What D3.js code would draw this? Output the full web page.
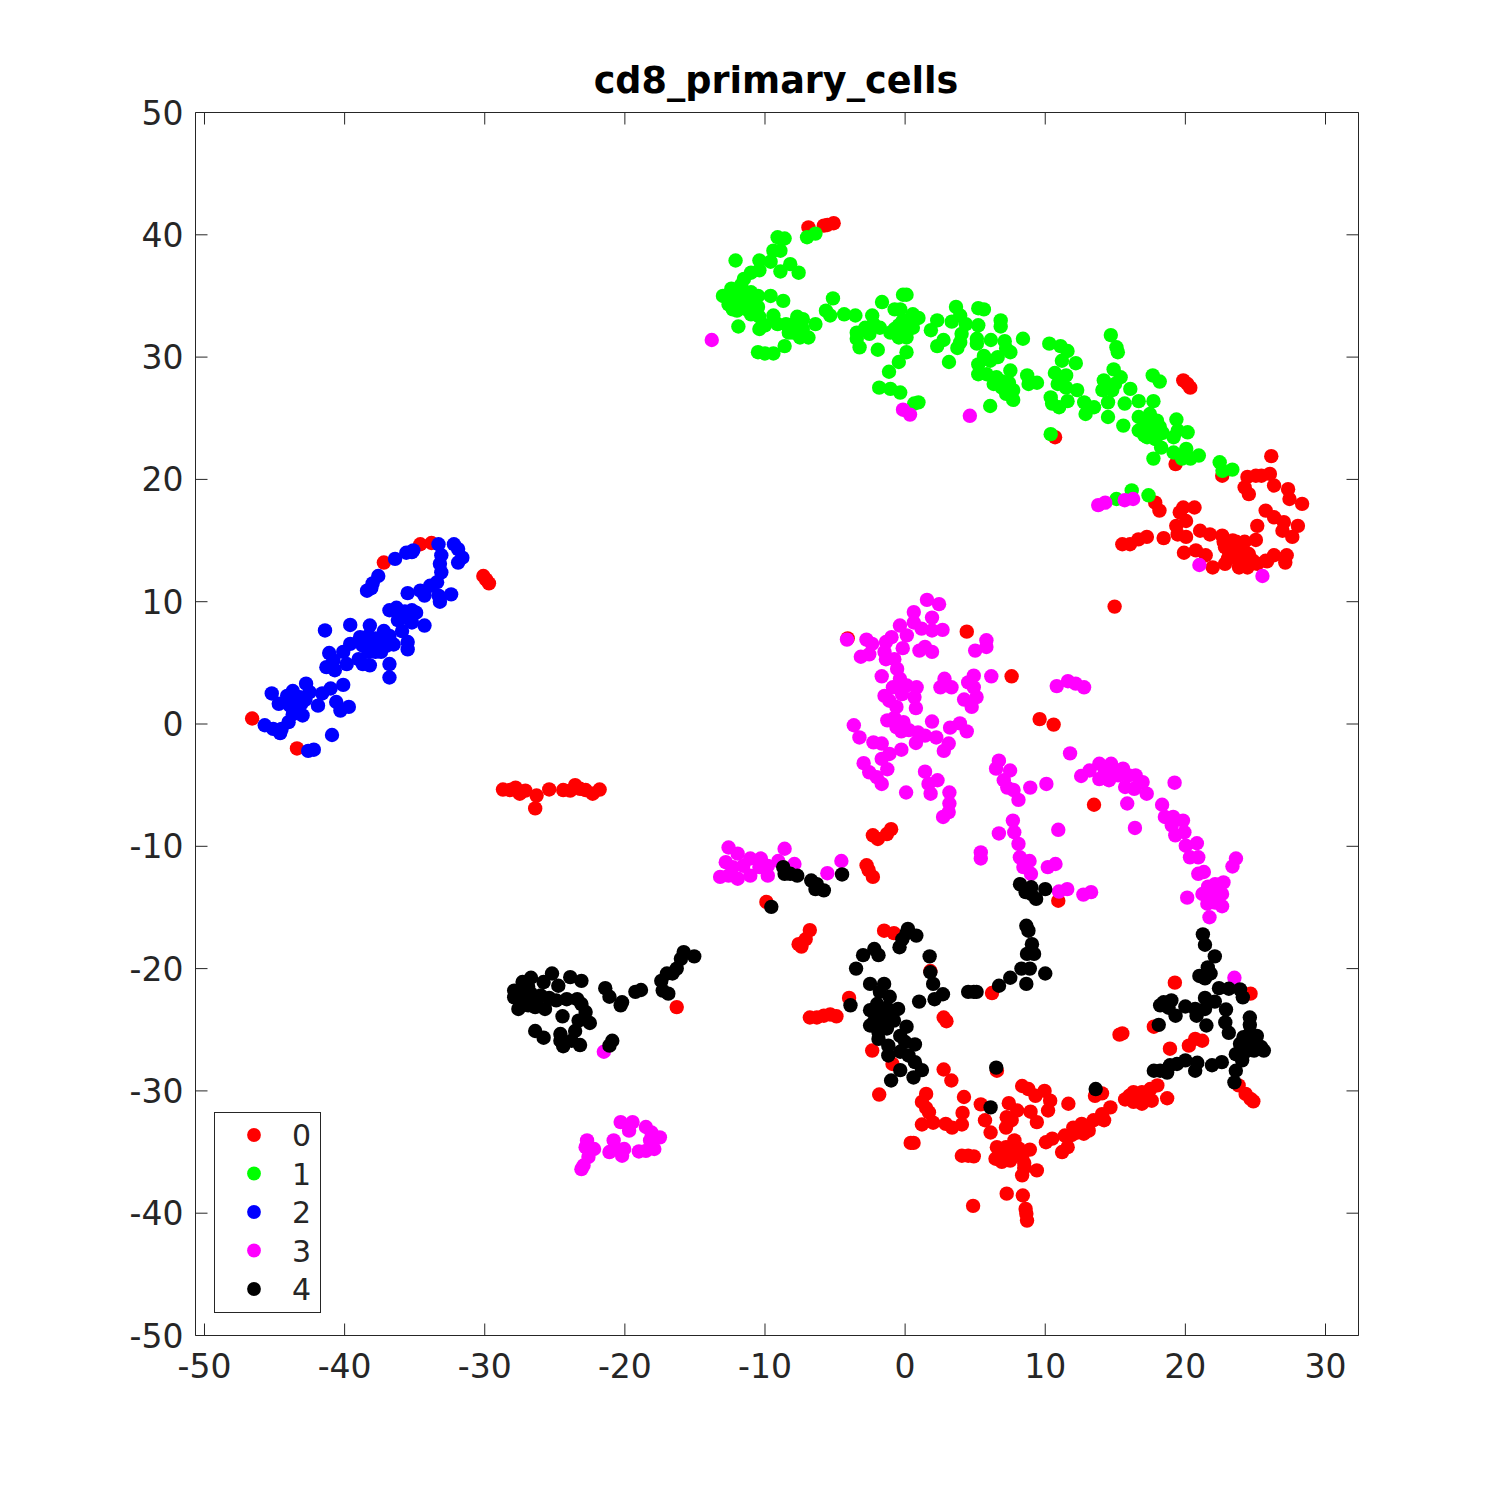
<!DOCTYPE html>
<html><head><meta charset="utf-8">
<script src="https://cdn.jsdelivr.net/npm/d3@7"></script>
<style>html,body{margin:0;padding:0;background:#fff}svg{display:block}</style>
</head><body><svg id="c" width="1500" height="1500"></svg>
<script>
const chartTitle = "cd8_primary_cells";
const categories = ["0","1","2","3","4"];
const seriesColors = ["#ff0000","#00ff00","#0000ff","#ff00ff","#000000"];
const xTicks = [-50,-40,-30,-20,-10,0,10,20,30];
const yTicks = [-50,-40,-30,-20,-10,0,10,20,30,40,50];

const series0 = [[-6.9,40.6],[-5.8,40.75],[-5.55,40.8],[-5.1,40.95],[19.85,28.1],[20.15,27.8],[20.35,27.5],[10.7,23.45],[19.3,21.25],[22.63,20.3],[26.13,21.9],[24.43,20.2],[25.03,20.3],[25.43,20.3],[26.03,20.45],[24.23,19.35],[24.53,18.8],[26.33,19.5],[27.33,19.2],[27.43,18.4],[28.33,18],[18.15,17.45],[17.85,18.1],[19.85,17.7],[20.65,17.7],[19.6,17.3],[20.05,16.6],[19.35,16.2],[19.45,15.5],[20.05,15.3],[25.73,17.45],[26.33,16.9],[27.03,16.5],[28.03,16.2],[27.63,15.3],[26.93,15.8],[25.13,16.2],[15.5,14.7],[16.05,14.7],[16.65,15.1],[17.25,15.3],[18.45,15.2],[21.05,15.8],[21.75,15.5],[22.63,15.4],[23.38,15],[24.23,14.9],[25.03,15.05],[19.9,14],[20.75,14.2],[21.45,13.8],[21.95,12.8],[22.83,13.1],[22.83,14.45],[23.83,14.2],[23.83,12.8],[23.38,13.6],[24.53,13.9],[24.43,12.8],[25.13,13.1],[25.73,13.35],[26.33,13.8],[27.23,13.8],[27.13,13.2],[24.83,13.35],[23.13,14],[23.63,14.9],[24.13,13.4],[23.03,13.5],[22.73,14.9],[25.83,13.3],
[-34.6,14.7],[-33.8,14.8],[-37.2,13.2],[-30.1,12.1],[-29.9,11.8],[-29.7,11.5],[-46.6,0.45],[-43.4,-2],
[4.4,7.55],[14.95,9.6],[7.6,3.9],[9.6,0.4],[10.6,-0.05],[13.48,-6.6],[-4.1,7],[-2.3,-9.1],[-1.95,-9.4],[-1.3,-9],[-1,-8.6],[-2.75,-11.55],[-2.6,-11.95],[-2.3,-12.5],[-9.9,-14.55],[10.93,-14.45],
[-28.7,-5.36],[-28.2,-5.4],[-27.8,-5.2],[-27.5,-5.7],[-27.1,-5.45],[-26.3,-5.85],[-25.4,-5.35],[-26.4,-6.9],[-24.4,-5.4],[-23.9,-5.45],[-23.55,-5],[-23.2,-5.3],[-22.8,-5.4],[-22.3,-5.7],[-21.8,-5.36],[-16.3,-23.15],
[-6.8,-16.85],[-7.1,-17.6],[-7.6,-18],[-7.4,-18.2],[-1.5,-16.9],[-0.8,-17.1],[1.8,-20.2],[-4,-22.4],[-6.8,-24],[-6.3,-24],[-5.8,-23.85],[-5.35,-23.75],[-4.9,-23.9],[2.75,-24],[2.95,-24.3],[6.2,-22],[-2.35,-26.7],[-0.9,-27.8],[-1.85,-30.3],[2.75,-28.25],[3.3,-29.15],[1.5,-30.25],[1.2,-30.9],[4.2,-30.5],[1.7,-31.75],[4.1,-31.8],[1.2,-32.75],[2,-32.6],[2.9,-32.7],[3.35,-33],[4.05,-32.75],[0.4,-34.25],[0.6,-34.25],[5.4,-31.1],[5.7,-32.4],[6.1,-33.4],[6.55,-28.35],[8.35,-29.6],[8.8,-29.85],[9.3,-30.4],[9.95,-30],[10.35,-30.8],[10.2,-31.6],[7.4,-31],[8,-31.6],[8.95,-31.7],[9.4,-32.55],[7.25,-32.15],[7.2,-33],[7.6,-32.4],[1.5,-31.4],[11.65,-31.05],[4.05,-35.3],[4.5,-35.3],[4.9,-35.35],[6.55,-34.6],[7.8,-34.05],[6.45,-35.55],[7,-35.15],[7.75,-35.15],[8.35,-35.4],[7.5,-35.7],[8.9,-34.8],[7.2,-34.6],[6.9,-35.8],[8.1,-34.7],[8.5,-35.9],[8.35,-36.9],[8.5,-36.3],[9.4,-36.5],[7.25,-38.4],[4.85,-39.4],[8.4,-38.55],[8.6,-39.65],[8.65,-40.05],[8.7,-40.6],[10.05,-34.2],[10.5,-33.9],[11.2,-35],[11.6,-34.6],[11.4,-33.65],[12,-33],[12.6,-32.7],[13.1,-33.25],[12.75,-33.5],[12.3,-33.4],[11.9,-33.6],[13.45,-32.4],[14.05,-31.9],[14.2,-32.4],[14.65,-31.35],[15.7,-30.7],[16.3,-30.1],[16.9,-30.1],[16.3,-30.9],[16.9,-31.05],[17.5,-29.85],[17.6,-30.8],[18,-29.55],[18.7,-30.6],[16.7,-30.5],[16,-30.4],[17.2,-30.4],[13.55,-30.4],[14.05,-30.2],[15.3,-25.4],[15.5,-25.3],[18.9,-26.55],[20.25,-26.3],[20.7,-25.75],[21.2,-25.9],[19.25,-21.15],[17.75,-24.75],[24.65,-22.05],[23.8,-29.55],[24.3,-30.25],[24.65,-30.65],[24.85,-30.85]];

const series1 = [[-9.1,39.8],[-8.6,39.7],[-9.4,38.7],[-8.9,38.7],[-12.1,37.9],[-10.4,37.9],[-9.6,37.8],[-8.2,37.6],[-7.6,36.9],[-8.9,37],[-10.4,37.1],[-11,36.9],[-11.5,36.4],[-11.7,35.9],[-12.4,35.6],[-13,35],[-12.4,34.9],[-11.8,35.2],[-11,35.3],[-10.5,35],[-12.6,34.3],[-11.8,34.3],[-11,34.3],[-12.3,33.9],[-10.5,34.1],[-11.5,34.6],[-11,33.5],[-10.4,33.3],[-12,34.8],[-12,33.8],[-11.3,33.9],[-9.6,35],[-8.7,34.6],[-11.9,32.5],[-10.4,32.3],[-10,32.6],[-9.4,33.4],[-9.1,32.7],[-8.5,32.7],[-7.7,33.3],[-7.3,33.1],[-8.3,32],[-7.7,32.3],[-7.6,32.7],[-7.5,31.6],[-6.9,31.6],[-6.4,32.7],[-10.5,30.4],[-10,30.3],[-9.4,30.3],[-8.6,30.9],[-7,39.8],[-6.4,40.1],[-7.3,32.3],[-8,32],[-8,32.7],
[-5.15,34.8],[-5.65,33.8],[-5.35,33.4],[-4.35,33.5],[-3.55,33.4],[-1.65,34.5],[-0.15,35.1],[0.1,35.1],[-0.75,33.9],[-0.35,33.9],[0.55,33.5],[0.95,33.2],[-2.35,33.4],[-3.45,32],[-2.85,32.4],[-2.25,32.7],[-1.8,32.4],[-3.25,30.8],[-3.45,31.5],[-2.55,31.9],[-1.95,30.6],[-0.75,32.3],[-0.15,33],[-0.05,32.2],[0.55,32.4],[-0.45,31.6],[0.1,31.6],[-1.05,32],[-0.45,32.6],[0.25,32.8],[-2.45,32.4],[0.1,30.4],[-0.45,29.6],[-1.15,28.8],[-1.85,27.5],[-1.05,27.4],[-0.35,27.1],[0.95,26.3],[0.65,26.2],[2.29,33],[1.84,32.2],[2.74,31.4],[2.29,30.9],[3.63,34.1],[3.93,33.4],[3.33,32.9],[4.33,32.7],[5.22,32.6],[4.03,31.9],[3.93,31.2],[3.73,30.75],[5.22,34],[5.62,33.9],[5.12,31.5],[5.12,31.1],[6.12,31.4],[6.82,33],[6.82,32.5],[3.13,29.6],
[8.41,31.5],[7.11,31.3],[7.21,30.7],[7.51,30.4],[6.61,30],[5.62,30.1],[5.22,29.4],[6.07,29.7],[5.22,28.6],[5.82,28.6],[7.51,28.9],[6.52,28.35],[6.32,27.8],[6.91,27.5],[7.71,27.3],[7.21,27],[7.71,26.5],[8.71,28.5],[8.81,27.8],[9.41,27.9],[6.07,26],[6.91,28],[7.41,27.9],
[10.29,31.1],[11.09,30.9],[11.59,30.5],[11.19,29.7],[12.18,29.5],[10.69,28.7],[11.49,28.5],[10.89,27.8],[11.49,27.5],[12.28,27.3],[10.39,26.7],[10.49,26.2],[10.99,25.9],[11.59,26.4],[12.78,26.3],[12.88,25.35],[13.48,25.9],[14.48,26.3],[14.48,25.1],[14.68,31.8],[15.08,30.8],[15.18,30.4],[14.88,29],[15.38,28.35],[14.18,28.1],[14.98,27.8],[14.08,27.3],[14.78,27.3],[16.07,27.4],[15.67,26.2],[16.67,26.4],[17.72,26.4],[17.67,28.5],[18.17,28],[15.57,24.4],[16.67,25.1],[17.47,25.35],[17.97,24.8],[16.67,24],[17.47,24.3],[18.17,24.3],[17.07,24.7],[17.67,23.8],[17.07,23.6],[18.37,23.8],[17.27,23.45],[17.87,23.3],[18.27,22.6],[17.72,21.7],[19.36,24.9],[19.46,24],[20.16,23.85],[19.16,23.45],[19.16,22.2],[20.06,22.5],[19.76,21.7],[20.36,21.7],[20.96,21.95],[22.45,21.4],[22.65,20.7],[23.35,20.8],[10.39,23.7],[16.17,19.1],[15.08,18.4],[17.37,18.7]];

const series2 = [[-33.3,14.7],[-32.2,14.7],[-31.9,14.3],[-31.6,13.6],[-31.9,13.2],[-33.1,13.8],[-33.2,13.1],[-33.1,12.4],[-33.4,11.6],[-33.9,11.3],[-35.2,14.05],[-35.6,14],[-35.1,14.2],[-36.4,13.5],[-37.6,12.1],[-38,11.5],[-38.4,10.9],[-38.1,11.1],[-35.5,10.7],[-34.6,10.9],[-34.3,10.5],[-33.3,10.5],[-32.4,10.6],[-33.2,10],[-36.8,9.3],[-36.3,9.5],[-35.2,9.3],[-34.9,9.1],[-35.6,8.7],[-36.2,8.5],[-35.2,8.3],[-35.9,7.6],[-34.3,8.05],[-35.7,9.2],[-41.4,7.65],[-39.6,8.1],[-38.2,8.05],[-38.9,7.1],[-38.3,7.2],[-37.2,7.6],[-36.8,7.2],[-38.7,6.4],[-38,6.5],[-37.5,6.8],[-37,6.4],[-36.5,6.5],[-39.6,6.55],[-37.4,5.9],[-35.5,6.7],[-35.5,6.1],[-37.8,7],[-38.3,5.9],[-36.9,6.9],[-37.8,5.9],[-41.1,5.8],[-40.1,5.9],[-40.8,5.2],[-41.3,4.65],[-40.7,4.4],[-39.85,4.9],[-39,5.3],[-38.7,4.9],[-38.2,4.8],[-36.8,4.9],[-36.8,3.8],[-40.1,3.2],[-41,2.9],[-41.6,2.5],[-42.75,3.3],[-43.7,2.7],[-42.5,2.6],[-43.2,2.2],[-44.1,2.3],[-45.2,2.5],[-44.7,1.65],[-43.9,1.5],[-43.1,1.65],[-41.9,1.5],[-42.8,2],[-44,2],[-40.6,1.8],[-40.3,1.1],[-39.7,1.4],[-43,0.7],[-43.7,0.8],[-44,0.15],[-44.5,-0.4],[-45.1,-0.4],[-45.7,-0.1],[-44.6,-0.75],[-40.9,-0.9],[-42.6,-2.2],[-42.2,-2.1]];

const series3 = [[-13.8,31.4],[-0.15,25.7],[0.35,25.3],[4.62,25.2],[13.78,17.9],[14.28,18.1],[15.67,18.3],[16.27,18.4],[21,13],[25.5,12.1],
[1.56,10.15],[2.42,9.8],[1.92,8.7],[0.62,9.15],[0.62,8.3],[-0.37,8.05],[0.12,7.25],[1.17,7.8],[1.92,7.65],[2.67,7.7],[-4.15,6.9],[-2.76,6.9],[-2.36,6.55],[-3.16,5.5],[-2.56,5.7],[-0.97,7.1],[-1.37,6.7],[-0.17,6.2],[-1.47,5.9],[-1.37,5.3],[-0.77,5.3],[1.02,6],[1.42,6.3],[1.92,5.9],[5.8,6.85],[5.8,6.3],[5,6],[-1.67,3.9],[-0.57,4.5],[-0.37,3.7],[-0.87,3],[0.82,3],[0.12,3.15],[-1.47,2.3],[-0.22,2.45],[0.67,2.2],[-1.12,1.9],[-0.62,1.4],[0.77,1.3],[2.81,3.7],[2.52,3],[3.31,3],[4.9,3.95],[6.15,3.9],[4.5,3.4],[4.9,3],[4.21,2],[5.1,2.2],[4.75,1.4],[10.82,3.1],[11.62,3.5],[12.17,3.3],[12.77,3],[-3.66,-0.1],[-3.26,-1.1],[-1.27,0.3],[-0.62,-0.25],[-0.12,0.15],[0.27,-0.5],[0.92,-0.7],[1.92,0.2],[2.22,-1.1],[1.42,-0.95],[0.77,-1.55],[-0.77,0.5],[-0.27,-0.6],[3.21,-0.3],[3.91,0.05],[4.4,-0.6],[3.11,-1.6],[2.76,-2.2],[-2.26,-1.5],[-1.67,-1.6],[-0.27,-2.1],[-1.12,-2.45],[-1.67,-2.85],[-2.96,-3.2],[-2.56,-3.95],[-1.27,-3.7],[-2.02,-4.35],[-1.67,-4.9],[0.07,-5.6],[1.42,-3.9],[2.31,-4.6],[1.67,-4.9],[1.82,-5.7],[3.16,-5.6],[3.16,-6.5],[3.11,-7.2],[2.71,-7.6],[6.69,-3],[6.49,-3.65],[7.49,-3.8],[7.04,-4.6],[7.29,-5.2],[7.74,-5.4],[8.09,-6.2],[8.93,-5.2],[10.08,-4.9],[11.77,-2.4],[12.56,-4.25],[13.16,-3.8],[13.86,-3.25],[13.86,-4.5],[14.7,-3.25],[14.55,-4.6],[15.55,-3.65],[15.2,-4.2],[15.95,-4.2],[16.45,-4.2],[15.7,-5.15],[16.95,-4.75],[17.24,-5.7],[16.35,-5.3],[14.26,-3.9],[14.85,-4.1],[19.23,-4.8],[15.85,-6.5],[18.34,-6.6],[16.4,-8.5],[18.54,-7.6],[19.13,-7.6],[19.83,-7.9],[19.03,-8.3],[19.93,-8.85],[19.28,-9.1],[20.82,-9.75],[20.03,-9.95],[20.33,-10.9],[20.92,-10.9],[21.32,-12.1],[20.92,-12.25],[22.12,-13.1],[22.72,-12.95],[21.22,-13.9],[22.12,-13.9],[22.62,-13.9],[21.62,-13.3],[22.12,-14.6],[20.13,-14.2],[21.57,-14.7],[22.62,-14.9],[21.72,-15.8],[23.61,-11],[23.36,-11.65],[7.69,-7.9],[7.79,-8.85],[8.09,-9.8],[8.19,-10.9],[8.88,-11.2],[8.98,-12.25],[8.44,-11.7],[6.69,-8.95],[10.93,-8.65],[5.4,-10.5],[5.4,-11],[10.18,-11.7],[10.73,-11.45],[10.98,-13.7],[11.57,-13.5],[12.72,-13.95],[13.27,-13.75],
[-12.6,-10.1],[-11.95,-10.6],[-12.8,-11.3],[-13.2,-12.5],[-12.6,-12.4],[-11.95,-12.65],[-12.3,-11.7],[-11.05,-11],[-10.3,-11],[-11.05,-12.4],[-11.55,-11.6],[-9.8,-12.4],[-10.4,-11.7],[-9.8,-11.6],[-9.05,-11.2],[-8.6,-10.2],[-7.9,-11.45],[-5.55,-12.2],[-4.55,-11.2],[23.5,-20.75],[-21.5,-26.8],
[-20.3,-32.55],[-19.45,-32.55],[-18.5,-32.95],[-19.7,-33.25],[-18.1,-33.4],[-17.5,-33.8],[-18.2,-34.05],[-17.9,-34.75],[-18.5,-34.9],[-19,-34.95],[-20.8,-34.05],[-20.05,-34.75],[-21.1,-35],[-20.2,-35.3],[-20.65,-34.75],[-22.7,-34.05],[-22.8,-34.6],[-22.2,-34.75],[-22.6,-35.4],[-22.95,-36.1],[-23.1,-36.4]];

const series4 = [[8.65,-16.5],[8.8,-16.9],[9.05,-18],[8.7,-18.8],[9.2,-18.8],[8.3,-20],[8.9,-20],[10,-20.4],[8.65,-21.25],[7.5,-20.75],[6.7,-21.4],[4.9,-21.9],[5.1,-21.9],[4.5,-21.9],[0.2,-16.75],[0.8,-17.3],[-0.2,-17.6],[-0.4,-18.25],[0.1,-17.1],[-2.2,-18.4],[-1.9,-18.9],[-3,-18.9],[-3.5,-20],[1.75,-19],[1.8,-20.3],[2,-21.25],[2.7,-22.1],[2.1,-22.5],[1,-22.7],[-2.5,-21.25],[-1.5,-21.25],[-1.1,-22.3],[-1.8,-21.9],[-3.9,-23],[-0.5,-23.3],[-2.5,-23.4],[-2,-22.9],[-1.3,-23.2],[-1.9,-23.8],[-2.2,-24.3],[-1.5,-24.6],[-1.1,-23.8],[-2.5,-24.65],[-1.8,-24],[-0.8,-24.25],[-1.3,-24.9],[0.1,-24.75],[-1.9,-25.2],[-1.9,-25.75],[-1.2,-26.3],[-1.2,-27.1],[-0.35,-25.5],[0.7,-26.2],[0,-26],[-0.35,-26.8],[0.24,-27.1],[0.7,-27.65],[1.2,-28.3],[-0.35,-28.3],[-1,-29.15],[0.6,-28.9],[6.5,-28.1],[6.1,-31.35],[13.6,-29.85],
[21.25,-17.2],[21.4,-18.05],[22.1,-19],[21.6,-19.9],[21,-20.6],[21.8,-20.4],[21.4,-20.8],[22.4,-21.6],[23.1,-21.65],[23.9,-21.7],[24.1,-22.35],[21.4,-22.4],[22.1,-22.7],[20.7,-23.3],[21.4,-23.3],[20,-23.1],[19,-22.6],[18.45,-22.75],[18.2,-23],[19.3,-23.85],[18.8,-23.2],[18.1,-24.6],[20.8,-23.85],[21.5,-24.65],[22.9,-23.35],[22.85,-24.4],[23.1,-25.25],[24.6,-24],[24.6,-24.6],[24.15,-25.6],[25.1,-25.5],[23.9,-26.15],[24.6,-26],[25.4,-26.4],[23.6,-27],[24.3,-26.8],[24.9,-26.7],[25.6,-26.7],[24.05,-27.5],[24.6,-25.3],[25,-26.1],[24.2,-26.3],[23.6,-28.35],[23.5,-29.3],[22.6,-27.65],[21.9,-27.9],[20.85,-27.7],[20.7,-28.35],[20,-27.5],[19.4,-27.8],[18.9,-27.9],[18.7,-28.5],[17.75,-28.35],[18.2,-28.35],
[-8.7,-11.7],[-8.6,-12.25],[-8.2,-12.25],[-7.7,-12.4],[-6.7,-12.8],[-6.3,-13.1],[-5.8,-13.6],[-6.4,-13.5],[-4.5,-12.3],[-9.55,-14.95],[8.2,-13.1],[9,-13.35],[10,-13.5],[8.6,-13.75],[9.35,-14.3],[9,-13.9],
[-15.8,-18.65],[-15.05,-19],[-16,-19.2],[-16.3,-20],[-17,-20.4],[-17.4,-21],[-17.3,-21.8],[-16.9,-22.05],[-16.6,-20.4],[-21.4,-21.6],[-21.1,-22.3],[-20.3,-23],[-20.2,-22.75],[-19.25,-21.9],[-18.85,-21.75],[-25.2,-20.4],[-23.9,-20.7],[-23.1,-21],[-26.7,-20.75],[-27.3,-21.1],[-27.9,-21.8],[-27.9,-22.35],[-27.6,-23.3],[-26.9,-23],[-26.4,-23.15],[-25.7,-23.3],[-27.4,-22.6],[-26.7,-22.05],[-26,-22.2],[-27.2,-21.7],[-26.9,-21.5],[-26.3,-22.6],[-25.4,-22.4],[-25.8,-21.1],[-24.75,-21.4],[-24.9,-22.6],[-24.15,-22.5],[-23.4,-22.5],[-23.1,-22.9],[-22.8,-23.55],[-24.45,-23.9],[-23.3,-24.25],[-22.5,-24.45],[-23.55,-25.1],[-26.4,-25.1],[-25.8,-25.65],[-24.6,-25.35],[-24.6,-25.9],[-24.4,-26.35],[-23.8,-25.9],[-23.2,-26.25],[-20.9,-25.9],[-21.1,-26.3]];

const allSeries = [series0, series1, series2, series3, series4];

const svg = d3.select("#c");
const ink = "#262626";
const font = "'DejaVu Sans', sans-serif";
const x = d3.scaleLinear().domain([-50.642, 32.355]).range([195.5, 1358.5]);
const y = d3.scaleLinear().domain([-50, 50]).range([1335.5, 112.5]);

function styleAxis(g, fs){
  g.selectAll(".domain").attr("stroke", ink).attr("stroke-width", 1);
  g.selectAll(".tick line").attr("stroke", ink).attr("stroke-width", 1);
  g.selectAll("text").attr("fill", ink).style("font-family", font).style("font-size", fs + "px");
}
const fmt = d => String(d);
const gB = svg.append("g").attr("transform", "translate(0,1335.5)")
  .call(d3.axisBottom(x).offset(0).tickValues(xTicks).tickFormat(fmt).tickSizeInner(-12).tickSizeOuter(0).tickPadding(19));
const gT = svg.append("g").attr("transform", "translate(0,112.5)")
  .call(d3.axisTop(x).offset(0).tickValues(xTicks).tickFormat("").tickSizeInner(-12).tickSizeOuter(0));
const gL = svg.append("g").attr("transform", "translate(195.5,0)")
  .call(d3.axisLeft(y).offset(0).tickValues(yTicks).tickFormat(fmt).tickSizeInner(-12).tickSizeOuter(0).tickPadding(12));
const gR = svg.append("g").attr("transform", "translate(1358.5,0)")
  .call(d3.axisRight(y).offset(0).tickValues(yTicks).tickFormat("").tickSizeInner(-12).tickSizeOuter(0));
[gB, gT, gL, gR].forEach(g => styleAxis(g, 33));
gL.selectAll("text").attr("dy", "0.365em");

svg.append("text").attr("x", 776).attr("y", 93).attr("text-anchor", "middle")
  .style("font-family", font).style("font-size", "36.6px").style("font-weight", "bold")
  .attr("fill", "#000").text(chartTitle);

allSeries.forEach((pts, i) => {
  svg.append("g").selectAll("circle").data(pts).join("circle")
    .attr("cx", d => x(d[0])).attr("cy", d => y(d[1])).attr("r", 7.2)
    .attr("fill", seriesColors[i]);
});

const legend = svg.append("g");
legend.append("rect").attr("x", 214.5).attr("y", 1112.5).attr("width", 106).attr("height", 200)
  .attr("fill", "#fff").attr("stroke", ink).attr("stroke-width", 1);
const legendY = d3.scalePoint().domain(categories).range([1135, 1289]);
categories.forEach((c, i) => {
  legend.append("circle").attr("cx", 254).attr("cy", legendY(c)).attr("r", 6.9).attr("fill", seriesColors[i]);
  legend.append("text").attr("x", 292).attr("y", legendY(c) + 11).attr("fill", ink)
    .style("font-family", font).style("font-size", "30px").text(c);
});
</script></body></html>
